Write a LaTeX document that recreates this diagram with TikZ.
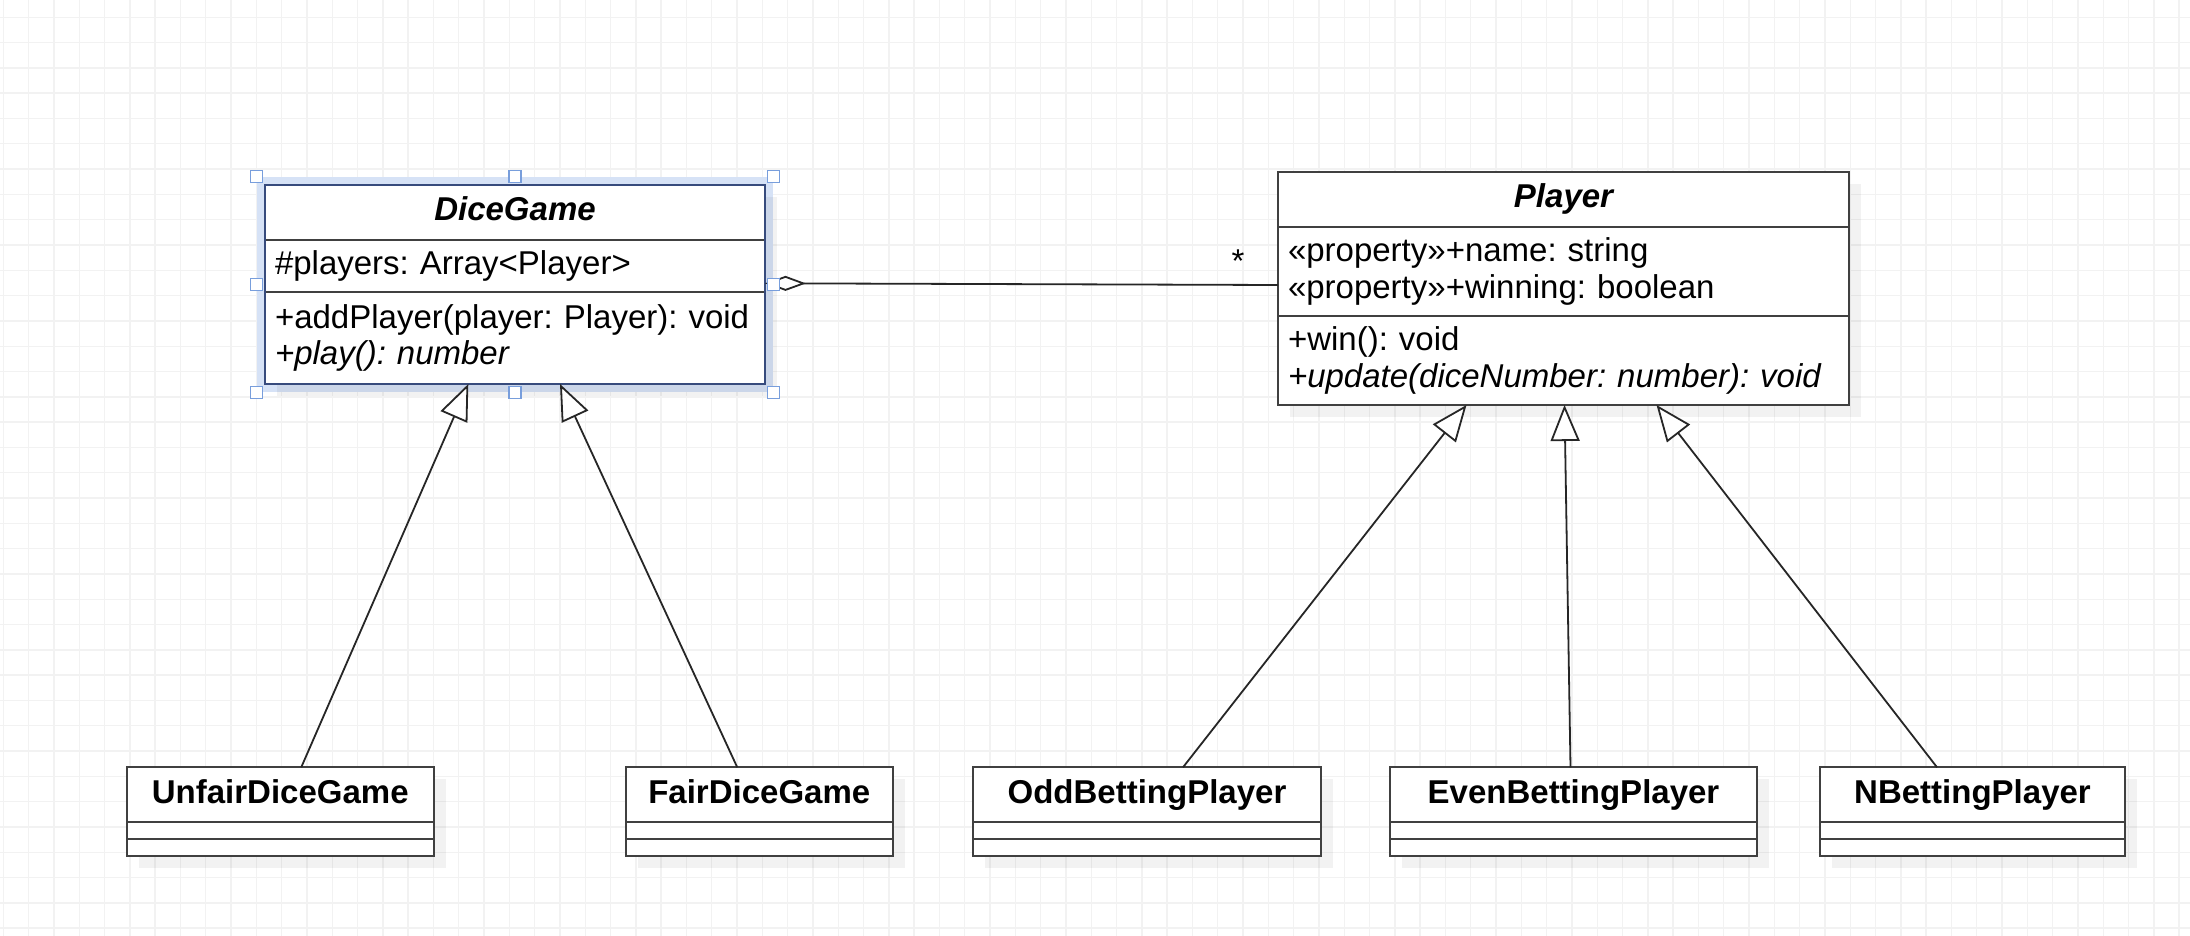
\documentclass[tikz,border=0pt]{standalone}
\usepackage{fontspec}
\setmainfont{Liberation Sans}
\usetikzlibrary{positioning,arrows.meta,shadows,fit,backgrounds}
\newcommand{\umlfont}{\fontsize{16.5pt}{18.3pt}\selectfont\frenchspacing}
\definecolor{gridgray}{RGB}{242,242,242}
\definecolor{selblue}{RGB}{120,158,220}
\definecolor{selglow}{RGB}{214,226,246}
\definecolor{selline}{RGB}{55,75,125}

\begin{document}
\begin{tikzpicture}[x=0.5pt, y=-0.5pt,
  every node/.style={font=\umlfont},
  umlbox/.style={draw=black!75, line width=1pt, fill=white, outer sep=0pt,
    inner xsep=5pt, inner ysep=0pt,
    drop shadow={shadow xshift=6pt, shadow yshift=-6pt, fill=black, opacity=0.05}},
  umltitle/.style={umlbox, minimum width=#1, minimum height=27.5pt,
    text height=12pt, text depth=3.5pt, font=\umlfont\bfseries},
  umlpart/.style={umlbox, text width=#1, align=left},
  umlgap/.style={umlbox, minimum width=#1, minimum height=8.5pt},
  gridline/.style={gridgray, line width=0.7pt},
  inherit/.style={draw=black!85, line width=0.9pt,
    -{Triangle[fill=white, length=18pt, width=14.5pt]}},
  aggr/.style={draw=black!85, line width=0.9pt,
    {Diamond[fill=white, length=20.5pt, width=7.5pt]}-},
  handle/.style={draw=selblue, fill=white, line width=0.6pt, minimum size=6pt, inner sep=0pt}]
  \useasboundingbox (0,0) rectangle (2190,936);

  \node[umltitle=250pt, anchor=north west, font=\umlfont\bfseries\itshape] (dg) at (265,185) {DiceGame};
  \node[umlpart=240pt, minimum height=26pt, below=0pt of dg] (dg-attr) {\#players: Array<Player>};
  \node[umlpart=240pt, minimum height=46pt, below=0pt of dg-attr] (dg-ops)
    {+addPlayer(player: Player): void\\\textit{+play(): number}};

  \node[umltitle=285.5pt, anchor=north west, font=\umlfont\bfseries\itshape] (pl) at (1278,171.7) {Player};
  \node[umlpart=275.5pt, minimum height=44.65pt, below=0pt of pl] (pl-attr)
    {«property»+name: string\\«property»+winning: boolean};
  \node[umlpart=275.5pt, minimum height=44.5pt, below=0pt of pl-attr] (pl-ops)
    {+win(): void\\\textit{+update(diceNumber: number): void}};

  \node[umltitle=153.75pt, anchor=north west] (unfair) at (126.5,767.3) {UnfairDiceGame};
  \node[umlgap=153.75pt, below=0pt of unfair] (unfair-attr) {};
  \node[umlgap=153.75pt, below=0pt of unfair-attr] (unfair-ops) {};

  \node[umltitle=133.25pt, anchor=north west] (fair) at (626,767.3) {FairDiceGame};
  \node[umlgap=133.25pt, below=0pt of fair] (fair-attr) {};
  \node[umlgap=133.25pt, below=0pt of fair-attr] (fair-ops) {};

  \node[umltitle=174pt, anchor=north west] (odd) at (973,767.3) {OddBettingPlayer};
  \node[umlgap=174pt, below=0pt of odd] (odd-attr) {};
  \node[umlgap=174pt, below=0pt of odd-attr] (odd-ops) {};

  \node[umltitle=183.5pt, anchor=north west] (even) at (1390,767.3) {EvenBettingPlayer};
  \node[umlgap=183.5pt, below=0pt of even] (even-attr) {};
  \node[umlgap=183.5pt, below=0pt of even-attr] (even-ops) {};

  \node[umltitle=152.5pt, anchor=north west] (nbet) at (1820,767.3) {NBettingPlayer};
  \node[umlgap=152.5pt, below=0pt of nbet] (nbet-attr) {};
  \node[umlgap=152.5pt, below=0pt of nbet-attr] (nbet-ops) {};

  \begin{scope}[on background layer]
    \fill[white] (0,0) rectangle (2190,936);
    \foreach \i in {0,...,86}
      \draw[gridline] ({3.3+25.3*\i},0) -- ({3.3+25.3*\i},936);
    \foreach \j in {0,...,36}
      \draw[gridline] (0,{17.3+25.3*\j}) -- (2190,{17.3+25.3*\j});
    \draw[selglow, line width=8pt] (dg.north west) rectangle (dg-ops.south east);
  \end{scope}
  \draw[selline, line width=1pt] (dg.north west) rectangle (dg-ops.south east);

  \draw[aggr] ([shift={(0,-8.7)}]dg-attr.south east) -- ([shift={(0,-31)}]pl-attr.south west);
  \node[anchor=base] (mult) at (1238,273) {*};

  \draw[inherit] ([shift={(21,0)}]unfair.north) -- ([shift={(-46.7,0)}]dg-ops.south);
  \draw[inherit] ([shift={(-22,0)}]fair.north) -- ([shift={(45,0)}]dg-ops.south);
  \draw[inherit] ([shift={(36,0)}]odd.north) -- ([shift={(-97,0)}]pl-ops.south);
  \draw[inherit] ([shift={(-3,0)}]even.north) -- ([shift={(1,0)}]pl-ops.south);
  \draw[inherit] ([shift={(-35.5,0)}]nbet.north) -- ([shift={(93,0)}]pl-ops.south);

  \node[fit=(dg)(dg-ops), inner sep=4pt] (dgsel) {};
  \foreach \a/\n in {north west/nw, north/n, north east/ne, west/w, east/e,
                     south west/sw, south/s, south east/se}
    \node[handle] (hdl-\n) at (dgsel.\a) {};
\end{tikzpicture}
\end{document}
